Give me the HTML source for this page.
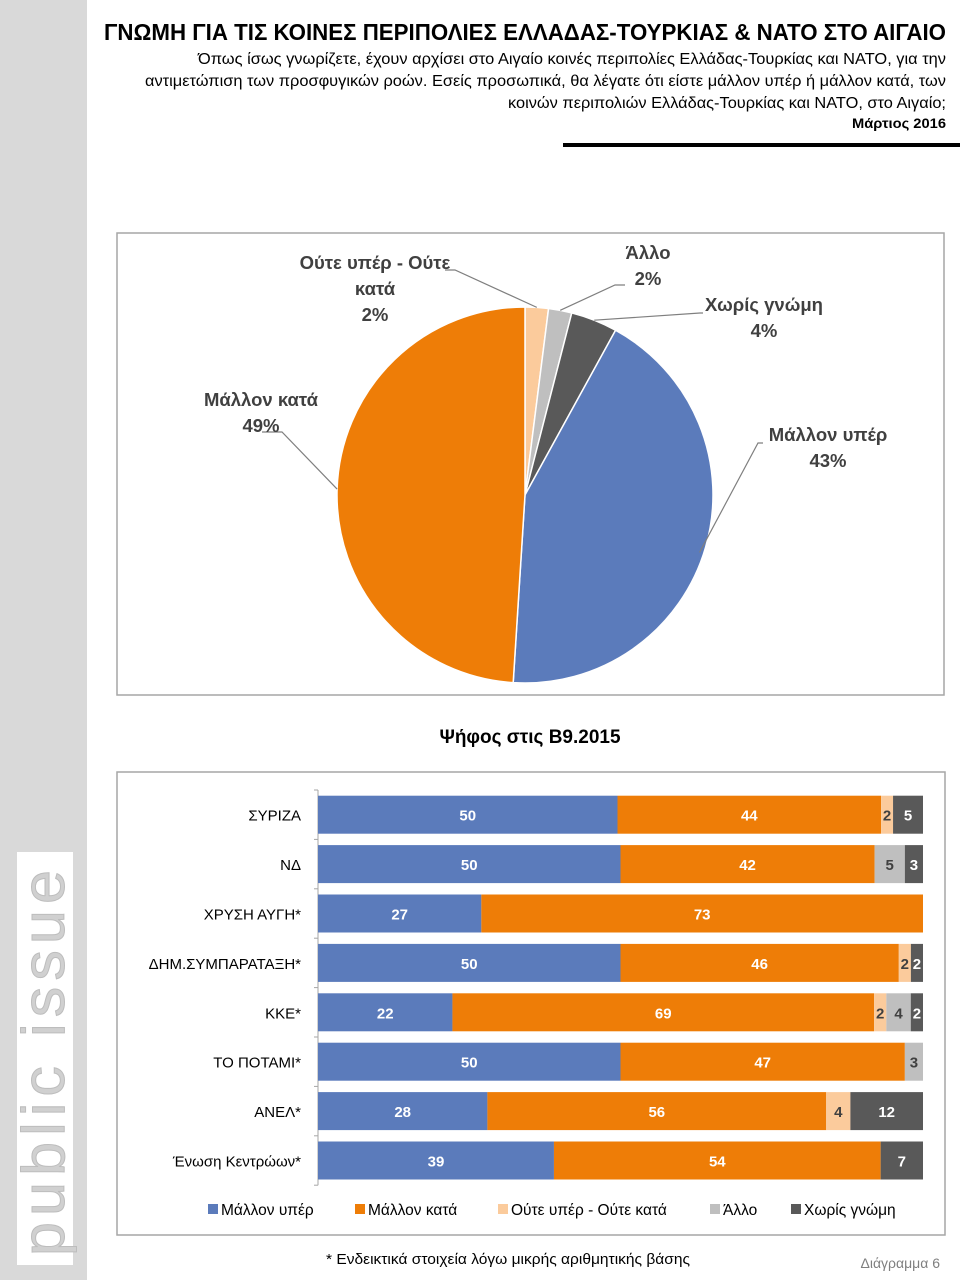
<!DOCTYPE html>
<html><head><meta charset="utf-8"><style>
body{margin:0;background:#fff;}
svg{display:block;font-family:"Liberation Sans",sans-serif;}
</style></head><body>
<svg id="s" width="960" height="1280" viewBox="0 0 960 1280" xmlns="http://www.w3.org/2000/svg">
<rect x="0" y="0" width="87" height="1280" fill="#d9d9d9"/>
<rect x="17" y="852" width="56" height="413" fill="#fff"/>
<text transform="translate(64,1256) rotate(-90)" font-size="60" fill="#d0d0d0" stroke="#bdbdbd" stroke-width="1" letter-spacing="6" textLength="392" lengthAdjust="spacingAndGlyphs">public issue</text>

<g fill="#000">
<text x="946" y="40" text-anchor="end" font-size="23" font-weight="bold" textLength="842" lengthAdjust="spacingAndGlyphs">ΓΝΩΜΗ ΓΙΑ ΤΙΣ ΚΟΙΝΕΣ ΠΕΡΙΠΟΛΙΕΣ ΕΛΛΑΔΑΣ-ΤΟΥΡΚΙΑΣ &amp; ΝΑΤΟ ΣΤΟ ΑΙΓΑΙΟ</text>
<text x="946" y="64" text-anchor="end" font-size="15.5" textLength="748" lengthAdjust="spacingAndGlyphs">Όπως ίσως γνωρίζετε, έχουν αρχίσει στο Αιγαίο κοινές περιπολίες Ελλάδας-Τουρκίας και ΝΑΤΟ, για την</text>
<text x="946" y="86" text-anchor="end" font-size="15.5" textLength="801" lengthAdjust="spacingAndGlyphs">αντιμετώπιση των προσφυγικών ροών. Εσείς προσωπικά, θα λέγατε ότι είστε μάλλον υπέρ ή μάλλον κατά, των</text>
<text x="946" y="108" text-anchor="end" font-size="15.5" textLength="438" lengthAdjust="spacingAndGlyphs">κοινών περιπολιών Ελλάδας-Τουρκίας και ΝΑΤΟ, στο Αιγαίο;</text>
<text x="946" y="128" text-anchor="end" font-size="14" font-weight="bold" textLength="94" lengthAdjust="spacingAndGlyphs">Μάρτιος 2016</text>
</g>
<rect x="563" y="143" width="397" height="4" fill="#000"/>

<rect x="117" y="233" width="827" height="462" fill="#fff" stroke="#a6a6a6" stroke-width="1.5"/>
<g id="pie"></g>

<text x="530" y="743" text-anchor="middle" font-size="19" font-weight="bold" fill="#000">Ψήφος στις Β9.2015</text>
<rect x="117" y="772" width="828" height="463" fill="#fff" stroke="#a6a6a6" stroke-width="1.5"/>
<g id="bars"></g>

<text x="508" y="1264" text-anchor="middle" font-size="15" fill="#000" textLength="364" lengthAdjust="spacingAndGlyphs">* Ενδεικτικά στοιχεία λόγω μικρής αριθμητικής βάσης</text>
<text x="940" y="1268" text-anchor="end" font-size="14" fill="#7f7f7f">Διάγραμμα 6</text>
</svg>
<script>
const NS="http://www.w3.org/2000/svg";
const pieCategories=["Ούτε υπέρ - Ούτε κατά","Άλλο","Χωρίς γνώμη","Μάλλον υπέρ","Μάλλον κατά"];
const pieValues=[2,2,4,43,49];
const pieColors=["#fbcb9c","#bfbfbf","#595959","#5b7bbb","#ee7d07"];
const barCategories=["ΣΥΡΙΖΑ","ΝΔ","ΧΡΥΣΗ ΑΥΓΗ*","ΔΗΜ.ΣΥΜΠΑΡΑΤΑΞΗ*","ΚΚΕ*","ΤΟ ΠΟΤΑΜΙ*","ΑΝΕΛ*","Ένωση Κεντρώων*"];
const seriesNames=["Μάλλον υπέρ","Μάλλον κατά","Ούτε υπέρ - Ούτε κατά","Άλλο","Χωρίς γνώμη"];
const favor=[50,50,27,50,22,50,28,39];
const against=[44,42,73,46,69,47,56,54];
const neither=[2,0,0,2,2,0,4,0];
const other=[0,5,0,0,4,3,0,0];
const noOpinion=[5,3,0,2,2,0,12,7];

function mk(tag,attrs,parent){const e=document.createElementNS(NS,tag);for(const k in attrs)e.setAttribute(k,attrs[k]);parent.appendChild(e);return e;}

// PIE
const pie=document.getElementById('pie');
const cx=525,cy=495,R=188;
const total=pieValues.reduce((a,b)=>a+b,0);
function pt(a,r){return [cx+r*Math.sin(a),cy-r*Math.cos(a)];}
let acc=0;
const mids=[];
pieValues.forEach((v,i)=>{
  const a0=acc/total*2*Math.PI, a1=(acc+v)/total*2*Math.PI; acc+=v;
  const p0=pt(a0,R),p1=pt(a1,R);
  const large=(a1-a0)>Math.PI?1:0;
  const p=mk('path',{d:`M${cx},${cy}L${p0[0]},${p0[1]}A${R},${R} 0 ${large} 1 ${p1[0]},${p1[1]}Z`,fill:pieColors[i],stroke:'#fff','stroke-width':1.5},pie);
  
  
  mids.push((a0+a1)/2);
});
const pieLabelPos=[
 {lines:["Ούτε υπέρ - Ούτε","κατά"],x:375,y:269},
 {lines:["Άλλο"],x:648,y:259},
 {lines:["Χωρίς γνώμη"],x:764,y:311},
 {lines:["Μάλλον υπέρ"],x:828,y:441},
 {lines:["Μάλλον κατά"],x:261,y:406}
];
pieLabelPos.forEach((L,i)=>{
  const m=pt(mids[i],R);
  let pts;
  if(i===0) pts=`${m[0]},${m[1]} 455,270 445,270`;
  else if(i===1) pts=`${m[0]},${m[1]} 615,285 625,285`;
  else if(i===2) pts=`${m[0]},${m[1]} 700,313 703,313`;
  else if(i===3) pts=`${m[0]-6},${m[1]+5} 758,443 763,443`;
  else pts=`${m[0]},${m[1]} 282,432 262,432`;
  const ln=mk('polyline',{points:pts,fill:'none',stroke:'#7f7f7f','stroke-width':1.2},pie);
  
  
  const t=mk('text',{x:L.x,y:L.y,'text-anchor':'middle','font-size':18.5,'font-weight':'bold',fill:'#404040'},pie);
  
  
  const lines=L.lines.concat([pieValues[i]+'%']);
  lines.forEach((s,j)=>{const ts=mk('tspan',{x:L.x,dy:j?26:0},t);ts.textContent=s;});
});

// BARS
const bars=document.getElementById('bars');
const x0=318,x1=923,yTop=790,rowH=49.4,bh=38;
const series=[favor,against,neither,other,noOpinion];
const labColors=["#fff","#fff","#404040","#404040","#fff"];
const serCol=["#5b7bbb","#ee7d07","#fbcb9c","#bfbfbf","#595959"];
mk('line',{x1:x0,y1:yTop,x2:x0,y2:yTop+rowH*8,stroke:'#a6a6a6','stroke-width':1},bars);
for(let k=0;k<=8;k++){mk('line',{x1:x0-4,x2:x0,y1:yTop+rowH*k,y2:yTop+rowH*k,stroke:'#a6a6a6'},bars);}
barCategories.forEach((c,r)=>{
  const yc=yTop+rowH*r+rowH/2;
  const rowTotal=series.reduce((a,s)=>a+s[r],0);
  const xs=v=>x0+(x1-x0)*v/rowTotal;
  const t=mk('text',{x:301,y:yc+6,'text-anchor':'end','font-size':15,fill:'#000'},bars);
  t.textContent=c;
  
  
  let cum=0;
  series.forEach((s,j)=>{
    const v=s[r]; if(!v) return;
    const rc=mk('rect',{x:xs(cum),y:yc-bh/2,width:xs(cum+v)-xs(cum),height:bh,fill:serCol[j]},bars);
    
    
    const tv=mk('text',{x:(xs(cum)+xs(cum+v))/2,y:yc+6,'text-anchor':'middle','font-size':15,'font-weight':'bold',fill:labColors[j]},bars);
    tv.textContent=v;
    
    
    cum+=v;
  });
});
const legX=[208,355,498,710,791];
seriesNames.forEach((n,i)=>{
  const g=mk('g',{},bars);
  
  
  mk('rect',{x:legX[i],y:1204,width:10,height:10,fill:serCol[i]},g);
  const t=mk('text',{x:legX[i]+13,y:1215,'font-size':15.5,fill:'#000'},g);
  t.textContent=n;
});
</script>
</body></html>
